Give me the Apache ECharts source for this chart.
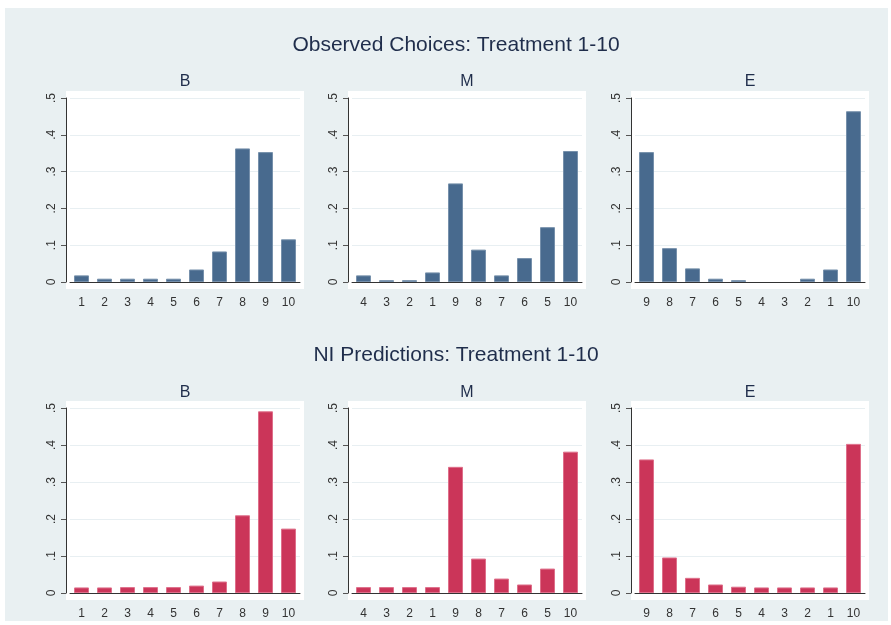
<!DOCTYPE html>
<html>
<head>
<meta charset="utf-8">
<script src="https://cdn.jsdelivr.net/npm/echarts@6/dist/echarts.min.js"></script>
<style>
  html, body { margin: 0; padding: 0; background: #ffffff; }
  #main { width: 891px; height: 625px; }
</style>
</head>
<body>
<div id="main"></div>
<script>
// category orders per panel
const labelsB = ["1", "2", "3", "4", "5", "6", "7", "8", "9", "10"];
const labelsM = ["4", "3", "2", "1", "9", "8", "7", "6", "5", "10"];
const labelsE = ["9", "8", "7", "6", "5", "4", "3", "2", "1", "10"];

// observed choice shares
const obsB = [0.018, 0.009, 0.009, 0.009, 0.009, 0.034, 0.083, 0.363, 0.353, 0.116];
const obsM = [0.018, 0.005, 0.005, 0.026, 0.268, 0.088, 0.018, 0.065, 0.149, 0.356];
const obsE = [0.353, 0.092, 0.037, 0.009, 0.005, 0, 0, 0.009, 0.034, 0.464];

// NI predictions
const niB = [0.015, 0.015, 0.016, 0.016, 0.016, 0.020, 0.031, 0.210, 0.491, 0.174];
const niM = [0.016, 0.016, 0.016, 0.016, 0.341, 0.093, 0.039, 0.023, 0.066, 0.382];
const niE = [0.361, 0.096, 0.041, 0.023, 0.017, 0.015, 0.015, 0.015, 0.015, 0.403];

const panels = [
  { labels: labelsB, data: obsB, col: 0, row: 0 },
  { labels: labelsM, data: obsM, col: 1, row: 0 },
  { labels: labelsE, data: obsE, col: 2, row: 0 },
  { labels: labelsB, data: niB, col: 0, row: 1 },
  { labels: labelsM, data: niM, col: 1, row: 1 },
  { labels: labelsE, data: niE, col: 2, row: 1 },
];

const colLeft = [66, 348, 631];
const plotW = 238;
const rowTop = [91, 401];
const plotH = [198, 199];
const pad = 7;

const barColor = ["#486a8e", "#cb3559"];
const barBorder = ["#7690ab", "#de6f8a"];
const textColor = "#1f2d4b";

const chart = echarts.init(document.getElementById("main"));

const grid = [], xAxis = [], yAxis = [], series = [];

panels.forEach(function (p, i) {
  const l = colLeft[p.col], t = rowTop[p.row], h = plotH[p.row];
  // white plot region
  grid.push({ left: l, top: t, width: plotW, height: h, show: true,
    backgroundColor: "#ffffff", borderWidth: 0 });
  xAxis.push({ gridIndex: 2 * i, show: false, type: "category", data: p.labels });
  yAxis.push({ gridIndex: 2 * i, show: false, min: 0, max: 1 });
  // data grid
  grid.push({ left: l + 4, top: t + pad, width: plotW - 8, height: h - 2 * pad });
  xAxis.push({
    gridIndex: 2 * i + 1,
    type: "category",
    data: p.labels,
    offset: pad,
    axisLine: { lineStyle: { color: "#333333", width: 1 } },
    axisTick: { length: 5, lineStyle: { color: "#555555" } },
    axisLabel: { color: "#333333", fontSize: 12, margin: 8, fontFamily: "Liberation Sans" },
  });
  yAxis.push({
    gridIndex: 2 * i + 1,
    type: "value",
    min: 0, max: 0.5, interval: 0.1,
    offset: 4,
    axisLine: { show: true, lineStyle: { color: "#333333", width: 1 } },
    axisTick: { show: true, length: 5, lineStyle: { color: "#555555" } },
    axisLabel: {
      color: "#333333", fontSize: 12, rotate: 90, margin: 8, fontFamily: "Liberation Sans",
      formatter: function (v) { return v === 0 ? "0" : String(+v.toFixed(1)).replace(/^0/, ""); },
    },
    splitLine: { lineStyle: { color: "#e8eff2", width: 1 } },
  });
  series.push({
    type: "bar",
    xAxisIndex: 2 * i + 1,
    yAxisIndex: 2 * i + 1,
    data: p.data.map(function (v) {
      return v === 0 ? { value: v, itemStyle: { borderWidth: 0 } } : v;
    }),
    barWidth: 15,
    silent: true,
    itemStyle: { color: barColor[p.row], borderColor: barBorder[p.row], borderWidth: 1 },
  });
});

const titles = [
  { text: "Observed Choices: Treatment 1-10", x: 456, y: 45, size: 21 },
  { text: "NI Predictions: Treatment 1-10", x: 456, y: 355, size: 21 },
  { text: "B", x: 185, y: 82, size: 16 },
  { text: "M", x: 467, y: 82, size: 16 },
  { text: "E", x: 750, y: 82, size: 16 },
  { text: "B", x: 185, y: 393, size: 16 },
  { text: "M", x: 467, y: 393, size: 16 },
  { text: "E", x: 750, y: 393, size: 16 },
];

const graphic = [{
  type: "rect", z: -10, silent: true,
  shape: { x: 5, y: 8, width: 883, height: 613 },
  style: { fill: "#e9f0f2" },
}];
titles.forEach(function (t) {
  graphic.push({
    type: "text", x: t.x, y: t.y, silent: true,
    style: { text: t.text, fill: textColor, font: t.size + "px 'Liberation Sans', Arial, sans-serif",
      textAlign: "center", textVerticalAlign: "middle" },
  });
});

chart.setOption({
  animation: false,
  backgroundColor: "#ffffff",
  graphic: graphic,
  grid: grid,
  xAxis: xAxis,
  yAxis: yAxis,
  series: series,
});
</script>
</body>
</html>
